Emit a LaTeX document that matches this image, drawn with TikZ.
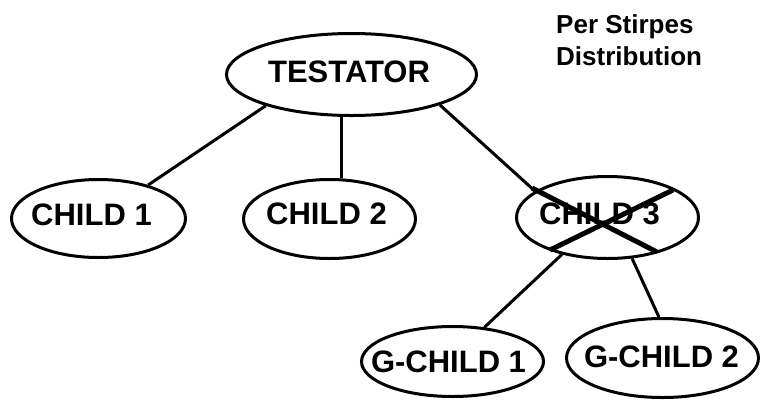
\documentclass[tikz,border=0pt]{standalone}
\usepackage{fontspec}
\setmainfont{Liberation Sans}
\usetikzlibrary{shapes.geometric}
\tikzset{
  ell/.style={draw=black, line width=3pt, ellipse, inner sep=0pt},
  lbl/.style={inner sep=0pt, anchor=center, font=\bfseries\fontsize{31}{31}\selectfont},
  conn/.style={draw=black, line width=3pt},
  cross/.style={draw=black, line width=5pt},
}
\begin{document}
\begin{tikzpicture}[x=1pt, y=-1pt]
\useasboundingbox (0,0) rectangle (760,400);
% ellipses
\node[ell, minimum width=250pt, minimum height=82pt] (T) at (351.5,74.5) {};
\node[ell, minimum width=174pt, minimum height=78pt] (C1) at (98.5,218.5) {};
\node[ell, minimum width=172pt, minimum height=79pt] (C2) at (329.5,219) {};
\node[ell, minimum width=182pt, minimum height=82pt] (C3) at (607.5,217.5) {};
\node[ell, minimum width=182pt, minimum height=70pt] (G1) at (452.5,361.5) {};
\node[ell, minimum width=192pt, minimum height=79pt] (G2) at (662.5,358) {};
% labels
\node[lbl] (Tt) at (349,71.5) {TESTATOR};
\node[lbl] (C1t) at (91.5,215) {CHILD 1};
\node[lbl] (C2t) at (326.5,214) {CHILD 2};
\node[lbl] (C3t) at (599.5,214) {CHILD 3};
\node[lbl] (G1t) at (448.5,361.5) {G-CHILD 1};
\node[lbl] (G2t) at (661.5,356.5) {G-CHILD 2};
\node[inner sep=0pt, anchor=north west, align=left,
      font=\bfseries\fontsize{26}{32}\selectfont] (title) at (556,14)
      {Per Stirpes\\Distribution};
% connectors
\draw[conn] (T.200) -- (C1.34);
\draw[conn] (T.257) -- (T.257 |- C2.north);
\draw[conn] (T.341) -- (C3.160);
\draw[conn] (C3.219) -- (G1.47);
\draw[conn] (C3.301) -- (G2.95);
% cross over CHILD 3
\draw[cross] ([shift={(-75.5,-29.5)}]C3.center) -- ([shift={(49.5,34.5)}]C3.center);
\draw[cross] ([shift={(65.5,-27.5)}]C3.center) -- ([shift={(-57.5,32.5)}]C3.center);
\end{tikzpicture}
\end{document}
